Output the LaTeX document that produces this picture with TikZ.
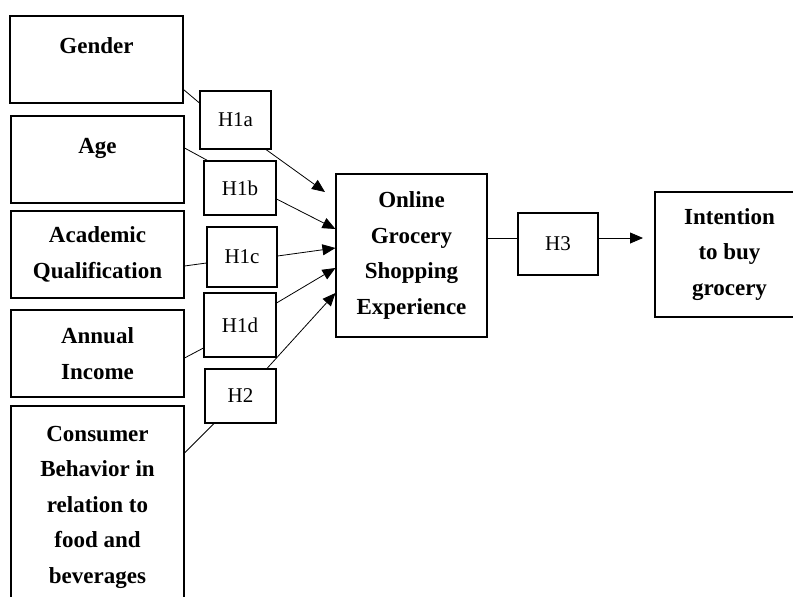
\documentclass[tikz,border=0pt]{standalone}
\usepackage{fontspec}
\setmainfont{Liberation Serif}
\usetikzlibrary{arrows.meta}
\begin{document}
\begin{tikzpicture}[x=1pt,y=-1pt,
  box/.style={draw, line width=1.1pt, inner sep=0pt, align=center,
    font=\fontsize{23}{35.5}\selectfont\bfseries},
  hyp/.style={draw, line width=1.1pt, inner sep=0pt,
    font=\fontsize{21}{25}\selectfont},
  link/.style={line width=0.8pt},
  arr/.style={link, -{Triangle[length=13pt,width=11pt]}}]
\useasboundingbox (0,0) rectangle (793,597);
\clip (0,0) rectangle (793,597);
% left boxes
\node[box, minimum width=173pt, minimum height=87pt] (gender) at (96.5,59.5) {Gender\\[-18pt]\strut};
\node[box, minimum width=173pt, minimum height=87pt] (age) at (97.5,159.5) {Age\\[-18pt]\strut};
\node[box, minimum width=173pt, minimum height=87pt] (acad) at (97.5,254.5) {Academic\\Qualification};
\node[box, minimum width=173pt, minimum height=87pt] (income) at (97.5,353.5) {Annual\\Income};
\node[box, minimum width=173pt, minimum height=202pt] (consumer) at (97.5,507) {Consumer\\Behavior in\\relation to\\food and\\beverages};
% hypothesis boxes
\node[hyp, minimum width=71pt, minimum height=58pt] (h1a) at (235.5,120) {H1a};
\node[hyp, minimum width=72pt, minimum height=54pt] (h1b) at (240,188) {H1b};
\node[hyp, minimum width=70pt, minimum height=60pt] (h1c) at (242,257) {H1c};
\node[hyp, minimum width=72pt, minimum height=64pt] (h1d) at (240,325) {H1d};
\node[hyp, minimum width=71pt, minimum height=54pt] (h2) at (240.5,396) {H2};
% centre and right
\node[box, minimum width=151pt, minimum height=163pt] (online) at (411.5,255.5) {Online\\Grocery\\Shopping\\Experience};
\node[hyp, minimum width=80pt, minimum height=62pt] (h3) at (558,244) {H3};
\node[box, minimum width=149pt, minimum height=125pt] (intent) at (729.5,254.5) {Intention\\to buy\\grocery};
\coordinate (a1) at (325,192);
\coordinate (a3) at (643,238);
% connectors
\draw[link] ([yshift=14pt]gender.south east) -- ([yshift=17pt]h1a.west);
\draw[arr] ([xshift=30.5pt]h1a.south) -- (a1);
\draw[link] ([yshift=11.5pt]age.east) -- ([xshift=4pt]h1b.north west);
\draw[arr] ([yshift=-11pt]h1b.east) -- ([yshift=26.5pt]online.west);
\draw[link] ([yshift=-11.5pt]acad.east) -- ([yshift=-6pt]h1c.west);
\draw[arr] ([yshift=1pt]h1c.east) -- ([yshift=7.5pt]online.west);
\draw[link] ([yshift=-4.5pt]income.east) -- ([yshift=-23pt]h1d.west);
\draw[arr] ([yshift=22pt]h1d.east) -- ([yshift=-12.5pt]online.west);
\draw[link] ([yshift=54pt]consumer.east) -- ([xshift=-26.5pt]h2.south);
\draw[arr] ([xshift=26.5pt]h2.north) -- ([yshift=-37.5pt]online.west);
\draw[link] ([yshift=17.5pt]online.east) -- ([yshift=6pt]h3.west);
\draw[arr] ([yshift=6pt]h3.east) -- (a3);
\end{tikzpicture}
\end{document}
